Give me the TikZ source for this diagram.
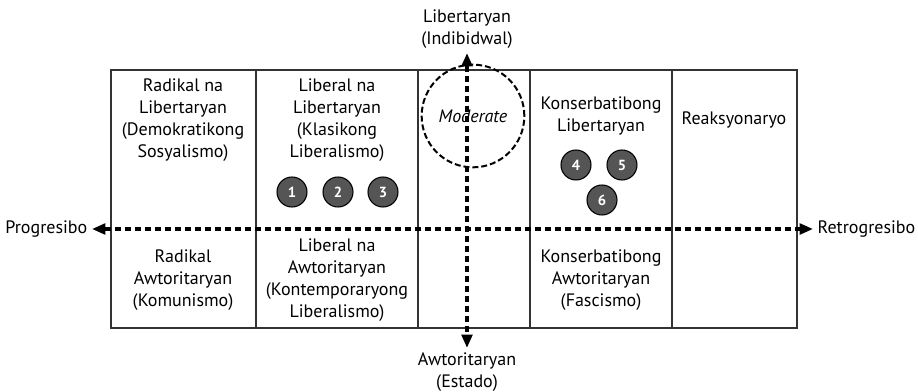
\documentclass[tikz,border=0pt]{standalone}
\usepackage{fontspec}
\setmainfont{PT Sans}
\usetikzlibrary{
positioning,
arrows.meta,
shapes.geometric
}
\definecolor{balldark}{HTML}{555555}
\tikzset{
celltext/.style={
align=center,
font=\fontsize{13.5}{16.5}\selectfont
},
ball/.style={
circle,
draw=black,
line width=0.8pt,
fill=balldark,
text=white,
font=\fontsize{11}{11}\selectfont\bfseries,
minimum size=22.5pt,
inner sep=0pt
},
gridline/.style={
line width=1pt,
draw=black!80
},
axis/.style={
{Triangle[length=10pt,width=8pt]}-{Triangle[length=10pt,width=8pt]},
line width=2.4pt,
dash pattern=on 5pt off 2.5pt
},
zone/.style={
circle,
draw,
line width=1.5pt,
dash pattern=on 4.5pt off 2.2pt,
minimum size=77pt,
inner sep=0pt,
font=\fontsize{13.5}{16.5}\selectfont\itshape
}
}

\begin{document}
\begin{tikzpicture}[x=0.75pt,y=-0.75pt]
\useasboundingbox (0,0) rectangle (918,392);

% grid
\draw[gridline] (111,70) rectangle (797,328);
\foreach \gx in {256,418,530,672}
  \draw[gridline] (\gx,70) -- (\gx,328);

% cells
\node[celltext] (radlib) at (183,120) {Radikal na\\Libertaryan\\(Demokratikong\\Sosyalismo)};
\node[celltext] (radawt) at (183,280) {Radikal\\Awtoritaryan\\(Komunismo)};
\node[celltext] (liblib) at (337,120) {Liberal na\\Libertaryan\\(Klasikong\\Liberalismo)};
\node[celltext] (libawt) at (337,280) {Liberal na\\Awtoritaryan\\(Kontemporaryong\\Liberalismo)};
\node[celltext] (konlib) at (601,116) {Konserbatibong\\Libertaryan};
\node[celltext] (konawt) at (601,280) {Konserbatibong\\Awtoritaryan\\(Fascismo)};
\node[celltext] (reak) at (734,120) {Reaksyonaryo};
\node[zone] (moderate) at (473,116) {Moderate};

% markers
\node[ball] (b1) at (292,192) {1};
\node[ball] (b2) at (338,192) {2};
\node[ball] (b3) at (383,192) {3};
\node[ball] (b4) at (576,165) {4};
\node[ball] (b5) at (622,165) {5};
\node[ball] (b6) at (602,200) {6};

% axes
\node[celltext] (lib) at (467,29) {Libertaryan\\(Indibidwal)};
\node[celltext] (awt) at (467,372) {Awtoritaryan\\(Estado)};
\node[celltext, anchor=east] (prog) at (92,229) {Progresibo};
\node[celltext, anchor=west] (retro) at (813,229) {Retrogresibo};

\draw[axis] (prog.east) -- (retro.west);
\draw[axis] (lib.south) -- (awt.north);

\end{tikzpicture}
\end{document}
